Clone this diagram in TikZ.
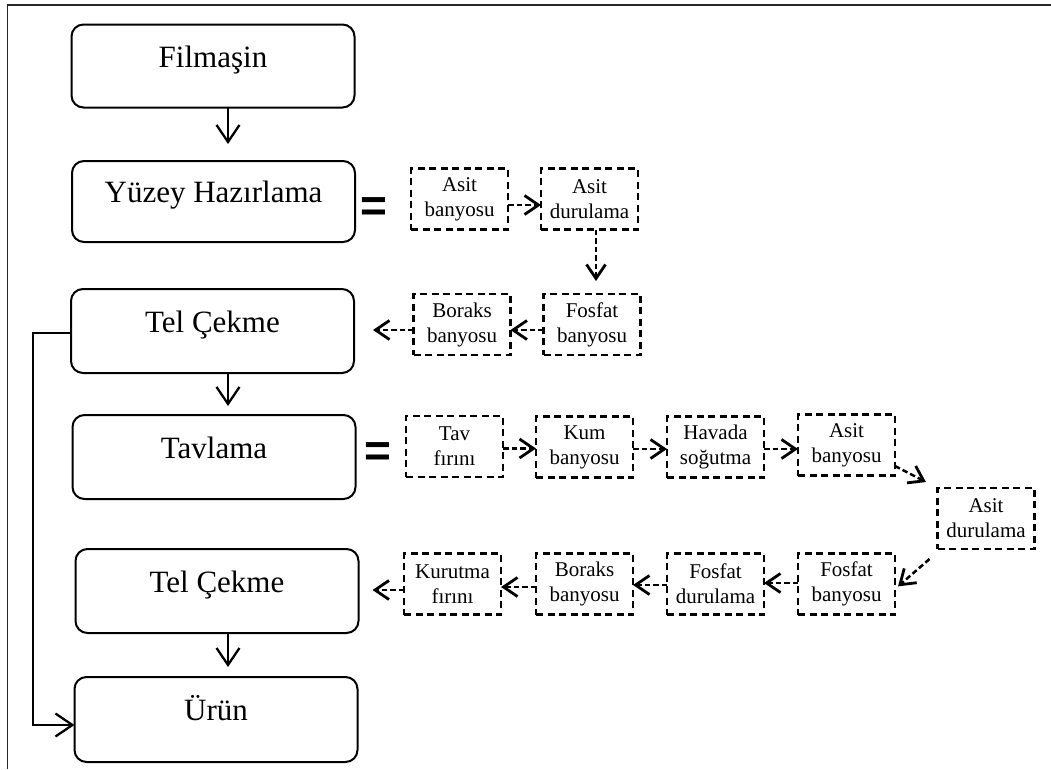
\documentclass[tikz,border=0pt]{standalone}
\usepackage{fontspec}
\setmainfont{Liberation Serif}
\newfontfamily\eqfont{Liberation Sans}
\usetikzlibrary{arrows.meta}
\tikzset{
  mainbox/.style={draw, line width=2pt, rounded corners=12pt, minimum width=283pt,
    inner sep=0pt, outer sep=0pt, text height=10pt, text depth=8pt,
    font=\fontsize{31}{37}\selectfont},
  subbox/.style={draw, line width=2.2pt, dash pattern=on 7pt off 4.5pt,
    minimum width=97pt, minimum height=61pt, inner sep=0pt, outer sep=0pt,
    align=center, font=\fontsize{21}{25}\selectfont},
  mainarrow/.style={line width=1.7pt, -{Straight Barb[length=17pt,width=23pt,line width=2.3pt]}},
  subarrow/.style={line width=2.5pt, dash pattern=on 5.5pt off 3pt,
    -{Straight Barb[length=14pt,width=19pt,line width=2.8pt]}},
  eqsign/.style={inner sep=0pt, font=\eqfont\bfseries\fontsize{46}{46}\selectfont},
}
\begin{document}
\begin{tikzpicture}[x=1pt,y=-1pt]
\useasboundingbox (0,0) rectangle (1051,769);
% frame
\draw[line width=2pt, black!85] (6.5,5) -- (1051,5);
\draw[line width=1.3pt, black!85] (7.5,5) -- (7.5,769);

% main column
\node[mainbox, minimum height=83pt] (film) at (213,66) {Filmaşin};
\node[mainbox, minimum height=81pt] (yuzey) at (213.5,201.5) {Yüzey Hazırlama};
\node[mainbox, minimum height=84pt] (tel1) at (212.5,331) {Tel Çekme};
\node[mainbox, minimum height=84pt] (tav) at (214,457) {Tavlama};
\node[mainbox, minimum height=84pt] (tel2) at (217,591) {Tel Çekme};
\node[mainbox, minimum height=85pt] (urun) at (216,719.5) {Ürün};

\coordinate (ax) at (228,0);
\draw[mainarrow, shorten >=17pt] (film.south -| ax) -- (yuzey.north -| ax);
\draw[mainarrow, shorten >=9pt] (tel1.south -| ax) -- (tav.north -| ax);
\draw[mainarrow, shorten >=10pt] (tel2.south -| ax) -- (urun.north -| ax);
\draw[mainarrow] ([yshift=-2pt]tel1.west) -- ++(-38,0) |- ([yshift=-5.5pt]urun.west);

% equals signs
\node[eqsign] (eq1) at (374,209.5) {=};
\node[eqsign] (eq2) at (377.7,454.5) {=};

% chain 1 (surface preparation)
\node[subbox] (ab1) at (459.5,199) {Asit\\banyosu};
\node[subbox] (ad1) at (589.5,199) {Asit\\durulama};
\node[subbox] (fb1) at (592,324.5) {Fosfat\\banyosu};
\node[subbox] (bb1) at (462,324.5) {Boraks\\banyosu};

\draw[subarrow] ([yshift=-6pt]ab1.east) -- ([yshift=-6pt]ad1.west);
\draw[subarrow, shorten >=13pt] ([xshift=6.5pt]ad1.south) -- ([xshift=6.5pt]ad1.south |- fb1.north);
\draw[subarrow] ([yshift=-5.5pt]fb1.west) -- ([yshift=-5.5pt]bb1.east);
\draw[subarrow, shorten >=19pt] ([yshift=-5.5pt]bb1.west) -- ([yshift=-5.5pt]bb1.west -| tel1.east);

% chain 2 (annealing)
\node[subbox] (tf) at (454.5,446.5) {Tav\\fırını};
\node[subbox] (kb) at (584.5,447) {Kum\\banyosu};
\node[subbox] (hs) at (715.5,447) {Havada\\soğutma};
\node[subbox] (ab2) at (846.5,445) {Asit\\banyosu};
\node[subbox] (ad2) at (986,518.5) {Asit\\durulama};
\node[subbox] (fb2) at (846.5,584) {Fosfat\\banyosu};
\node[subbox] (fd2) at (715.5,584) {Fosfat\\durulama};
\node[subbox] (bb2) at (584.5,584) {Boraks\\banyosu};
\node[subbox] (kf) at (452.5,584) {Kurutma\\fırını};

\draw[subarrow] ([yshift=-2pt]tf.east) -- ([yshift=-2pt]tf.east -| kb.west);
\draw[subarrow] ([yshift=-2pt]kb.east) -- ([yshift=-2pt]kb.east -| hs.west);
\draw[subarrow] ([yshift=-2pt]hs.east) -- ([yshift=-2pt]hs.east -| ab2.west);
\draw[subarrow, shorten >=13pt] ([yshift=-21pt]ab2.east) -- (ad2.north west);
\draw[subarrow, shorten >=4pt] ([xshift=-8pt,yshift=-10pt]ad2.south west) -- ([yshift=-5pt]fb2.east);
\draw[subarrow] ([yshift=1pt]fb2.west) -- ([yshift=1pt]fb2.west -| fd2.east);
\draw[subarrow] ([yshift=-1pt]fd2.west) -- ([yshift=-1pt]fd2.west -| bb2.east);
\draw[subarrow] ([yshift=-3pt]bb2.west) -- ([yshift=-3pt]bb2.west -| kf.east);
\draw[subarrow, shorten >=14pt] ([yshift=-6pt]kf.west) -- ([yshift=-6pt]kf.west -| tel2.east);
\end{tikzpicture}
\end{document}
